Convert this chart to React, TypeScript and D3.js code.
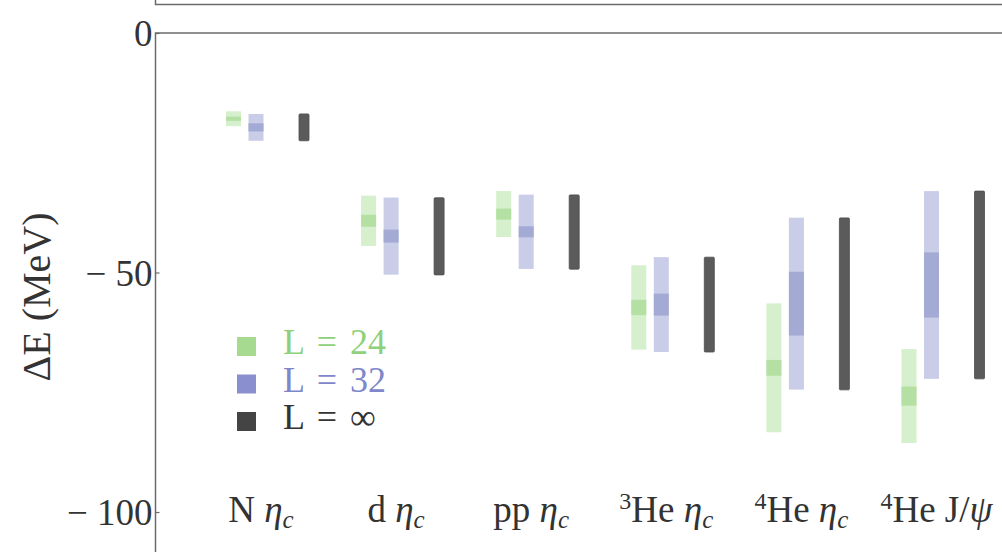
import React, { useEffect, useRef } from "react";
import * as d3 from "d3";

// categories (superscript, nucleus, probe)
const catSup = ["", "", "", "3", "4", "4"];
const catName = ["N", "d", "pp", "He", "He", "He"];
const catProbe = ["η", "η", "η", "η", "η", "J/ψ"];
const categories = ["N ηc", "d ηc", "pp ηc", "3He ηc", "4He ηc", "4He J/ψ"];

// L = 24 : central value, statistical error, total error (MeV)
const l24Center = [-17.9, -39.2, -37.8, -57.3, -69.9, -75.8];
const l24Stat = [0.45, 1.25, 1.15, 1.6, 1.65, 2.0];
const l24Total = [1.55, 5.25, 4.8, 8.8, 13.45, 9.8];

// L = 32
const l32Center = [-19.7, -42.4, -41.5, -56.7, -56.5, -52.6];
const l32Stat = [0.85, 1.35, 1.15, 2.3, 6.65, 6.8];
const l32Total = [2.8, 8.05, 7.75, 9.9, 17.95, 19.6];

// L = infinity
const lInfCenter = [-19.7, -42.45, -41.55, -56.7, -56.55, -52.6];
const lInfTotal = [2.8, 8.05, 7.75, 9.9, 17.95, 19.6];

const yTicks = [0, -50, -100];
const legendLabels = ["L = 24", "L = 32", "L = ∞"];

const W = 1002;
const H = 552;
const FONT = "'Liberation Serif', 'DejaVu Serif', serif";

const App = () => {
  const svgRef = useRef<SVGSVGElement>(null);

  useEffect(() => {
    const svg = d3.select(svgRef.current);
    svg.selectAll("*").remove();

    const x = d3.scalePoint().domain(categories).range([304, 979.5]);
    const y = d3.scaleLinear().domain([0, -100]).range([33, 512]);

    const frame = "#6b6b6b";
    // upper panel bottom edge (cut off)
    svg.append("path")
      .attr("d", `M155.5,0 V4.5 H${W}`)
      .attr("fill", "none").attr("stroke", frame).attr("stroke-width", 1.5);
    // lower panel frame
    svg.append("path")
      .attr("d", `M${W},${y(0)} H155.5 V${H}`)
      .attr("fill", "none").attr("stroke", frame).attr("stroke-width", 1.5);

    const axis = d3.axisLeft(y)
      .tickValues(yTicks)
      .tickSizeInner(-4)
      .tickSizeOuter(0)
      .tickPadding(3)
      .tickFormat((d: any) => (d < 0 ? "\u2212 " + Math.abs(d) : String(d)));
    const ga = svg.append("g").attr("transform", "translate(155.5,0)").call(axis);
    ga.select(".domain").remove();
    ga.selectAll("line").attr("stroke", frame).attr("stroke-width", 1.2);
    ga.selectAll("text")
      .attr("font-family", FONT).attr("font-size", 37).attr("fill", "#333")
      .attr("dy", "0.34em");

    svg.append("text")
      .attr("transform", "translate(50,297) rotate(-90)")
      .attr("text-anchor", "middle")
      .attr("font-family", FONT).attr("font-size", 40).attr("fill", "#333")
      .text("ΔE (MeV)");

    const band = (cx: number, w: number, lo: number, hi: number, fill: string) =>
      svg.append("rect")
        .attr("x", cx - w / 2).attr("width", w)
        .attr("y", y(hi)).attr("height", y(lo) - y(hi))
        .attr("fill", fill);

    categories.forEach((c, i) => {
      const cx = x(c)!;
      // L = 24
      band(cx - 70.5, 15, l24Center[i] - l24Total[i], l24Center[i] + l24Total[i], "#d6efcc");
      band(cx - 70.5, 15, l24Center[i] - l24Stat[i], l24Center[i] + l24Stat[i], "#b5e0a3");
      // L = 32
      band(cx - 48, 15, l32Center[i] - l32Total[i], l32Center[i] + l32Total[i], "#c9cde7");
      band(cx - 48, 15, l32Center[i] - l32Stat[i], l32Center[i] + l32Stat[i], "#a3aad4");
      // L = inf
      band(cx, 10, lInfCenter[i] - lInfTotal[i], lInfCenter[i] + lInfTotal[i], "#5a5b5a")
        .attr("stroke", "#4d4d4d").attr("stroke-width", 0.8).attr("rx", 1);

      const t = svg.append("text")
        .attr("x", cx - 43).attr("y", 522)
        .attr("text-anchor", "middle")
        .attr("font-family", FONT).attr("font-size", 37).attr("fill", "#333");
      if (catSup[i]) {
        t.append("tspan").attr("font-size", 24).attr("dy", -13).text(catSup[i]);
        t.append("tspan").attr("dy", 13).text(catName[i] + " ");
      } else {
        t.append("tspan").text(catName[i] + " ");
      }
      if (catProbe[i] === "η") {
        t.append("tspan").attr("font-style", "italic").text("η");
        t.append("tspan").attr("font-style", "italic").attr("font-size", 25).attr("dy", 6).text("c");
      } else {
        t.append("tspan").text("J/");
        t.append("tspan").attr("font-style", "italic").text("ψ");
      }
    });

    const legendColors = ["#a6da90", "#8a90cf", "#444444"];
    const legendText = ["#8fd07a", "#7f87cb", "#333333"];
    legendLabels.forEach((l, i) => {
      const ly = 346 + i * 37.5;
      svg.append("rect")
        .attr("x", 237).attr("y", ly - 9).attr("width", 19).attr("height", 19)
        .attr("fill", legendColors[i]);
      svg.append("text")
        .attr("x", 283).attr("y", ly + 8)
        .attr("font-family", FONT).attr("font-size", 36).attr("fill", legendText[i])
        .attr("word-spacing", 4)
        .text(l);
    });
  }, []);

  return (
    <svg ref={svgRef} width={W} height={H}
      style={{ position: "absolute", left: 0, top: 0, background: "#fff" }} />
  );
};

export default App;
